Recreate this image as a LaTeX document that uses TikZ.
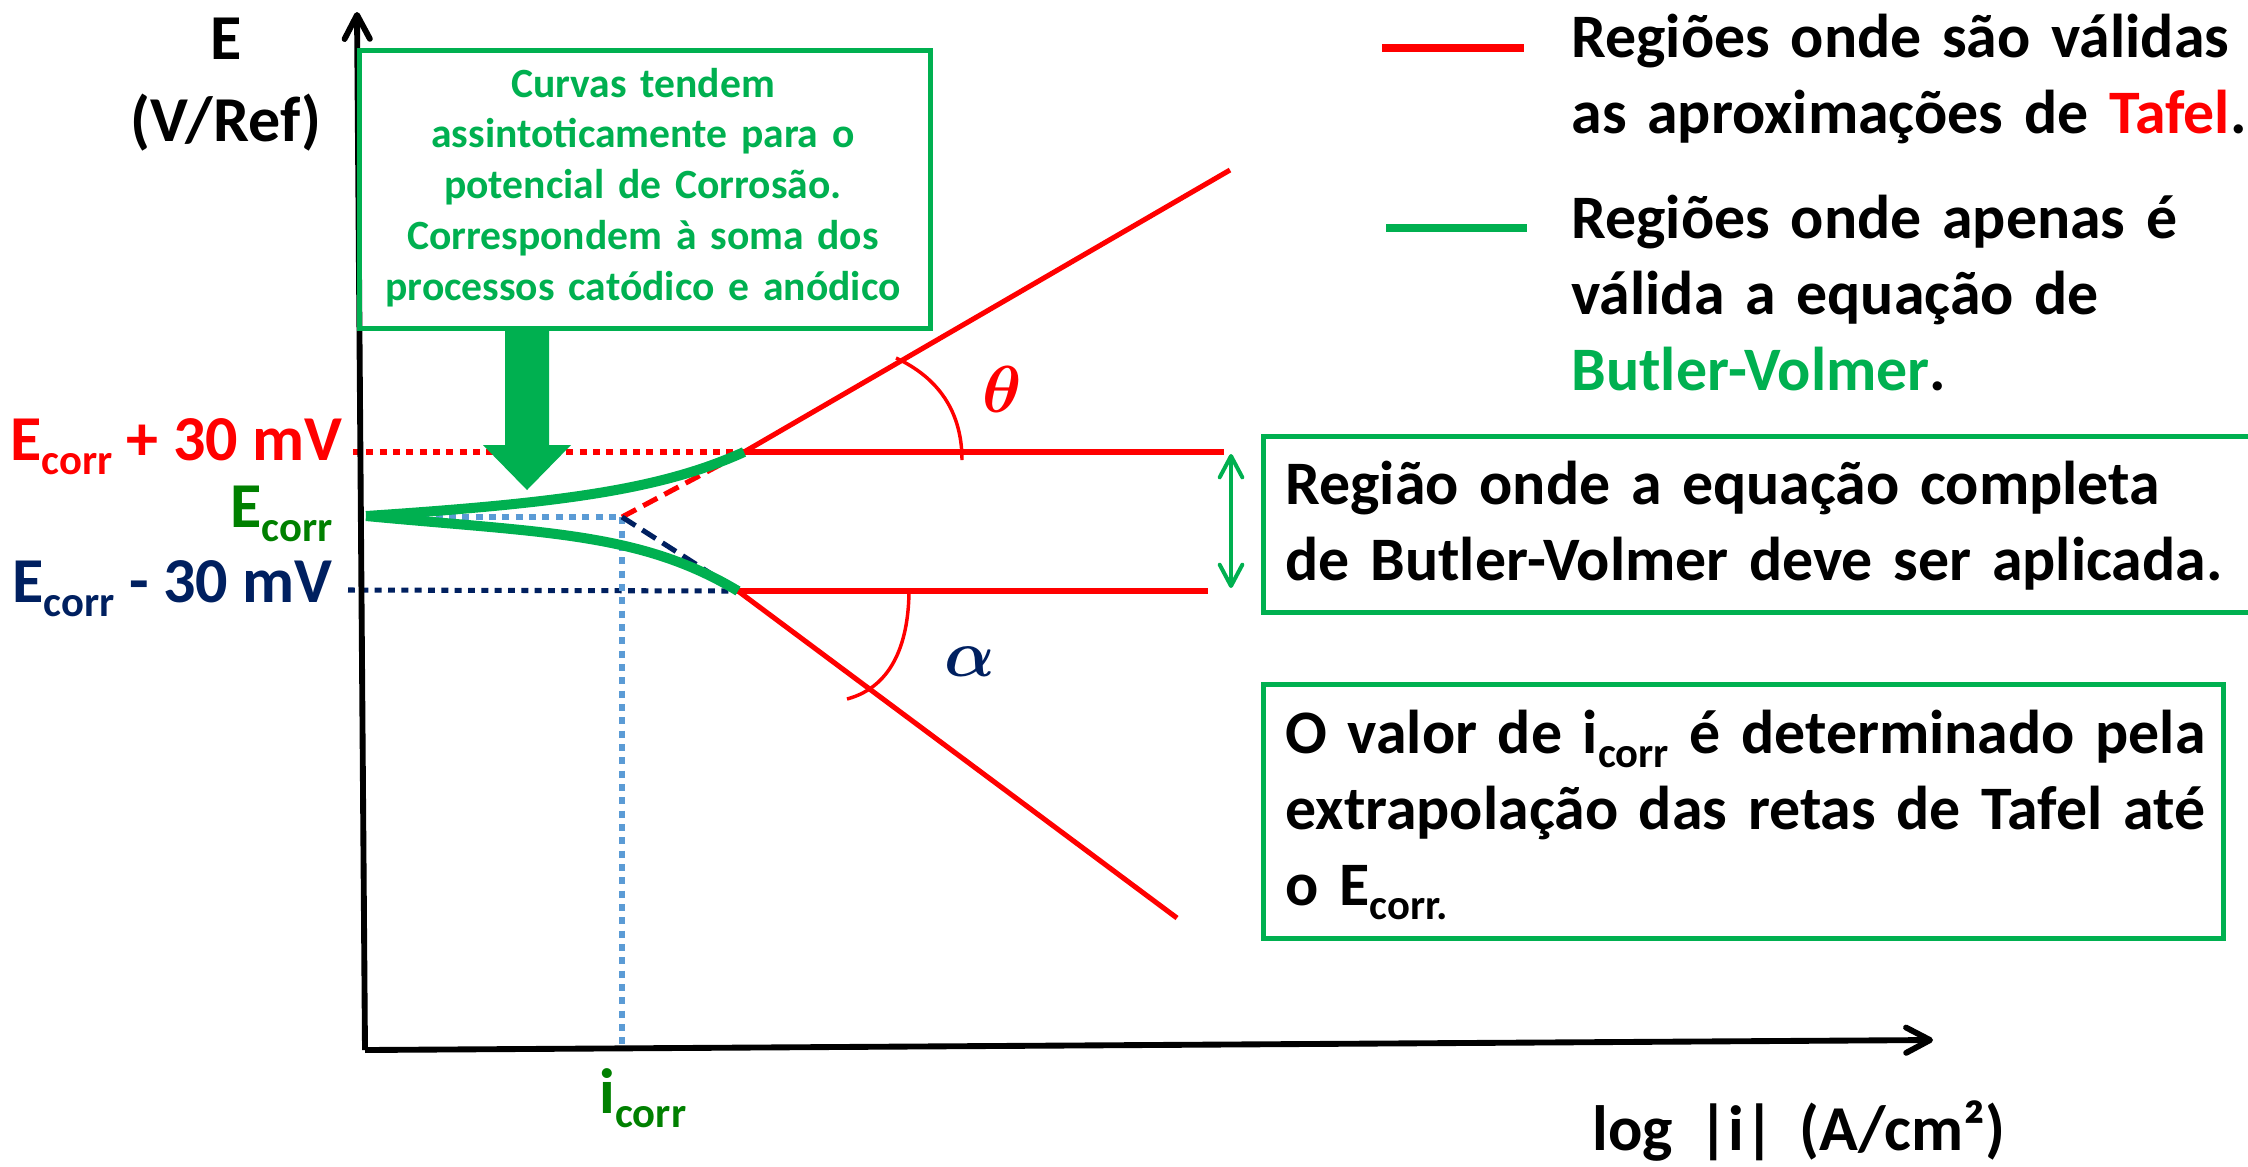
\documentclass[tikz,border=0pt]{standalone}
\usepackage{amsmath}
\usepackage{fontspec}
\setmainfont{Carlito}
\usetikzlibrary{arrows.meta,positioning}

\definecolor{tafred}{HTML}{FF0000}
\definecolor{bvgreen}{HTML}{00B050}
\definecolor{lblgreen}{HTML}{008000}
\definecolor{navyblue}{HTML}{002060}
\definecolor{skyblue}{HTML}{5B9BD5}

\newcommand{\lowtxt}[1]{\raisebox{-0.23em}{\fontsize{16}{16}\selectfont #1}}

\begin{document}
\begin{tikzpicture}[
  x=0.375pt, y=0.375pt,
  axis/.style={line width=2.2pt, -{Straight Barb[round,length=9pt,width=9.5pt]}},
  tafel/.style={draw=tafred, line width=1.9pt},
  anglearc/.style={draw=tafred, line width=1.3pt},
  bvcurve/.style={draw=bvgreen, line width=3.75pt},
  dotline/.style={line width=1.9pt, dash pattern=on 2.6pt off 2.4pt},
  extra/.style={line width=1.9pt, dash pattern=on 6pt off 3pt},
  gbox/.style={draw=bvgreen, line width=1.7pt, inner sep=0pt},
  lbltxt/.style={font=\fontsize{24}{28.5}\selectfont\bfseries, inner sep=0pt},
  bigtxt/.style={font=\fontsize{23.2}{28.5}\selectfont\bfseries, inner sep=0pt, align=left},
  smalltxt/.style={font=\fontsize{15.6}{19.1}\selectfont\bfseries, inner sep=0pt, align=center, text=bvgreen},
  greek/.style={font=\fontsize{31}{31}\selectfont, inner sep=0pt}
]
\useasboundingbox (0,0) rectangle (2248,-1166);
\clip (0,0) rectangle (2248,-1166);

% points of the plot
\coordinate (origin) at (365,-1050);
\coordinate (ytop) at (357,-12);
\coordinate (xend) at (1933,-1040);
\coordinate (ecorr) at (366,-516);
\coordinate (icorrpt) at (622,-517);
\coordinate (upperbv) at (744,-452);
\coordinate (lowerbv) at (738,-591);
\coordinate (tafup) at (1230,-170);
\coordinate (tafdown) at (1177,-918);
\coordinate (hup) at (1224,-452);
\coordinate (hdown) at (1208,-591);

% labels on the E axis
\node[bigtxt, align=center, text width=300*0.375pt, font=\fontsize{24}{31}\selectfont\bfseries, anchor=base] (elabel) at (226,-59) {E\\(V/Ref)};
\node[lbltxt, text=tafred, anchor=base east] (plus30) at (343,-460) {E\lowtxt{corr} + 30 mV};
\node[lbltxt, text=lblgreen, anchor=base east] (ecorrlbl) at (333,-527) {E\lowtxt{corr}};
\node[lbltxt, text=navyblue, anchor=base east] (minus30) at (333,-602) {E\lowtxt{corr} - 30 mV};

% guide lines
\draw[dotline, tafred] (353,-452) -- (upperbv);
\draw[dotline, navyblue] (348,-590) -- (lowerbv);
\draw[dotline, skyblue] (369,-517) -- (icorrpt) -- (622,-1048);
\draw[extra, tafred] (icorrpt) -- (upperbv);
\draw[extra, navyblue] (icorrpt) -- (lowerbv);

% axes
\draw[axis] (origin) -- (ytop);
\draw[axis] (origin) -- (xend);
\node[lbltxt, text=lblgreen, anchor=base west] (icorrlbl) at (599,-1113) {i\lowtxt{corr}};
\node[lbltxt, anchor=base west] (xlabel) at (1592,-1150) {log \,|i|\, (A/cm²)};

% Tafel lines
\draw[tafel] (upperbv) -- (tafup);
\draw[tafel] (upperbv) -- (hup);
\draw[tafel] (lowerbv) -- (tafdown);
\draw[tafel] (lowerbv) -- (hdown);
\draw[anglearc] (896,-358) to[out=-25,in=90] (962,-460);
\draw[anglearc] (909,-589) to[out=-90,in=15] (847,-699);
\node[greek, text=tafred] (theta) at (1002,-389) {$\boldsymbol{\theta}$};
\node[greek, text=navyblue] (alpha) at (970,-662) {$\boldsymbol{\alpha}$};

% Butler-Volmer curves
\draw[bvcurve] (ecorr) .. controls (560,-503) and (660,-490) .. (upperbv);
\draw[bvcurve] (ecorr) .. controls (545,-533) and (640,-532) .. (lowerbv);

% note box with block arrow
\node[gbox, minimum width=571*0.375pt, minimum height=278*0.375pt, anchor=north west] (curvbox) at (357,-48) {};
\node[smalltxt, text width=560*0.375pt, anchor=base] (curvtxt) at (643,-97) {Curvas tendem\\assintoticamente para o\\potencial de Corrosão.\\Correspondem à soma dos\\processos catódico e anódico};
\fill[bvgreen] (505,-326) -- (549,-326) -- (549,-445) -- (571,-445) -- (527,-490) -- (483,-445) -- (505,-445) -- cycle;

% legend
\draw[tafred, line width=3pt] (1382,-48) -- (1524,-48);
\node[bigtxt, text width=720*0.375pt, anchor=base west] (legtafel) at (1571,-57) {Regiões onde são válidas\\as aproximações de \textcolor{tafred}{Tafel}.};
\draw[bvgreen, line width=3pt] (1386,-228) -- (1527,-228);
\node[bigtxt, text width=720*0.375pt, anchor=base west] (legbv) at (1571,-238) {Regiões onde apenas é\\válida a equação de\\\textcolor{bvgreen}{Butler-Volmer}.};

% region boxes
\coordinate (gaptop) at (1231,-454);
\coordinate (gapbot) at (1231,-588);
\draw[bvgreen, line width=1.5pt, {Straight Barb[round,length=8pt,width=8.5pt]}-{Straight Barb[round,length=8pt,width=8.5pt]}] (gaptop) -- (gapbot);
\node[gbox, minimum width=1000*0.375pt, minimum height=176*0.375pt, anchor=north west] (fullbox) at (1261,-434) {};
\node[bigtxt, text width=985*0.375pt, anchor=base west] (fulltxt) at (1285,-504.5) {Região onde a equação completa\\de Butler-Volmer deve ser aplicada.};
\node[gbox, minimum width=960*0.375pt, minimum height=254*0.375pt, anchor=north west] (icorrbox) at (1261,-682) {};
\node[bigtxt, text width=950*0.375pt, anchor=base west] (icorrtxt) at (1285,-753) {O valor de i\lowtxt{corr} é determinado pela\\extrapolação das retas de Tafel até\\o E\lowtxt{corr.}};

\end{tikzpicture}
\end{document}
